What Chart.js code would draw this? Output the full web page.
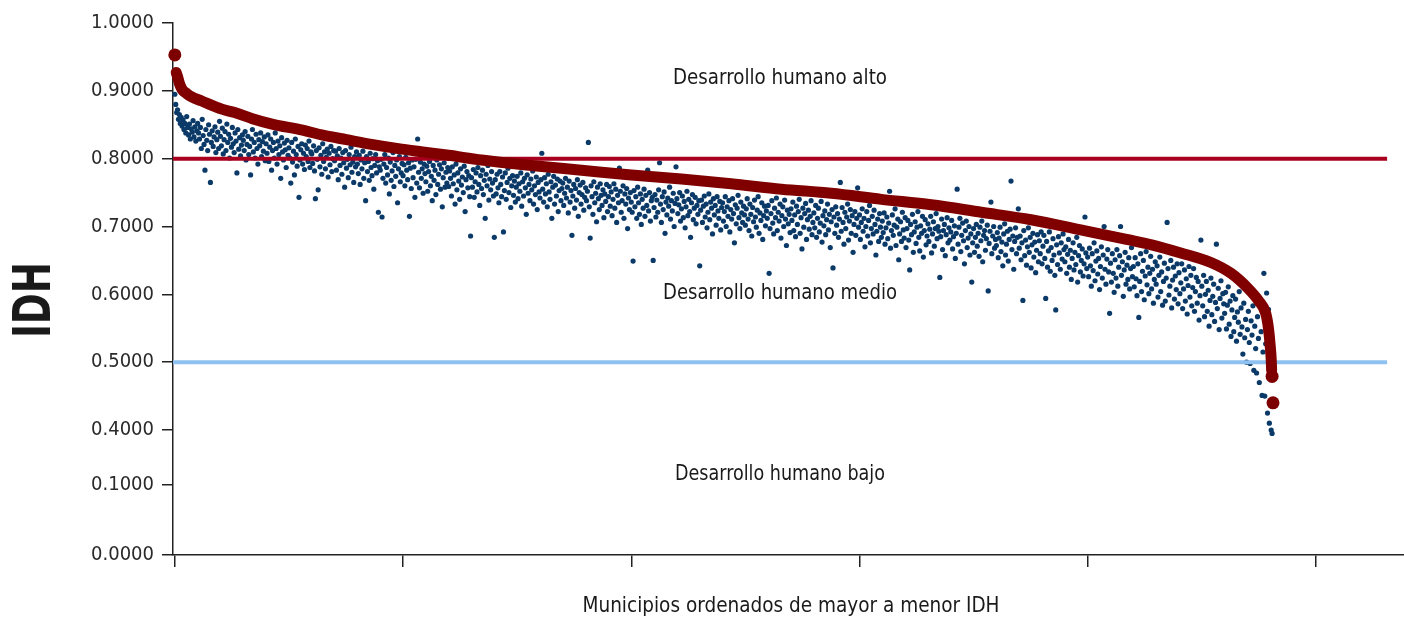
<!DOCTYPE html>
<html>
<head>
<meta charset="utf-8">
<script src="https://cdn.jsdelivr.net/npm/chart.js@4.4.1/dist/chart.umd.min.js"></script>
<style>
  html, body { margin: 0; padding: 0; background: #ffffff; overflow: hidden; }
  #wrap { width: 1404px; height: 617px; }
  canvas { display: block; }
</style>
</head>
<body>
<div id="wrap"><canvas id="c" width="1404" height="617"></canvas></div>
<script>
// ---------------- DATA ----------------
const xTickVals = [0, 500, 1000, 1500, 2000, 2500];
const yTickVals = [0, 0.1, 0.4, 0.5, 0.6, 0.7, 0.8, 0.9, 1.0];
const yTickLabels = ['0.0000', '0.1000', '0.4000', '0.5000', '0.6000', '0.7000', '0.8000', '0.9000', '1.0000'];

// broken y axis: real value -> axis position
const breakIn  = [0, 0.1, 0.4, 1.0];
const breakOut = [0, 70, 125, 532];

const thresholdHigh = 0.8;
const thresholdLow = 0.5;

const zoneLabels = ['Desarrollo humano alto', 'Desarrollo humano medio', 'Desarrollo humano bajo'];
const xTitle = 'Municipios ordenados de mayor a menor IDH';
const yTitle = 'IDH';

// red curve: municipalities sorted by IDH (rank, value)
const redRank = [3, 6, 10, 16, 26, 37, 59, 103, 131, 170, 213, 280, 322, 376, 431, 497, 543, 600, 672, 781, 891, 1000, 1110, 1219, 1329, 1438, 1548, 1657, 1767, 1876, 1985, 2085, 2140, 2204, 2270, 2314, 2351, 2375, 2390, 2396, 2400, 2402, 2403];
const redIdh  = [0.927, 0.921, 0.911, 0.902, 0.896, 0.891, 0.885, 0.873, 0.868, 0.859, 0.851, 0.842, 0.835, 0.828, 0.821, 0.814, 0.810, 0.805, 0.798, 0.790, 0.783, 0.776, 0.770, 0.763, 0.755, 0.749, 0.740, 0.732, 0.721, 0.710, 0.695, 0.681, 0.673, 0.661, 0.647, 0.631, 0.609, 0.590, 0.572, 0.550, 0.523, 0.505, 0.488];

// isolated big red dots
const bigRank = [0, 2404, 2406];
const bigIdh  = [0.953, 0.479, 0.440];

// blue dots: second IDH measure, one value every 2 ranks
const blueStep = 2;
const blueIdh = [
0.895,0.880,0.868,0.872,0.858,0.865,0.852,0.861,0.848,0.857,0.843,0.852,0.838,0.862,0.846,0.835,0.851,0.829,0.844,0.839,0.856,0.832,0.847,0.826,0.841,
0.852,0.838,0.829,0.846,0.815,0.858,0.834,0.821,0.783,0.843,0.827,0.812,0.850,0.836,0.765,0.824,0.841,0.818,0.832,0.847,0.809,0.828,0.839,0.815,0.855,
0.833,0.819,0.845,0.807,0.828,0.840,0.812,0.851,0.824,0.836,0.801,0.830,0.817,0.846,0.822,0.809,0.838,0.826,0.779,0.843,0.814,0.831,0.804,0.820,0.835,
0.827,0.812,0.840,0.798,0.821,0.833,0.806,0.818,0.776,0.829,0.843,0.810,0.824,0.801,0.836,0.815,0.792,0.828,0.819,0.838,0.803,0.825,0.811,0.832,0.797,
0.822,0.808,0.835,0.796,0.817,0.829,0.783,0.812,0.824,0.801,0.838,0.815,0.792,0.826,0.806,0.819,0.771,0.831,0.810,0.798,0.823,0.813,0.787,0.827,0.805,
0.816,0.801,0.764,0.824,0.795,0.811,0.776,0.829,0.806,0.789,0.818,0.743,0.798,0.813,0.822,0.792,0.808,0.784,0.820,0.803,0.815,0.796,0.826,0.787,0.810,
0.807,0.793,0.819,0.782,0.741,0.812,0.799,0.754,0.816,0.788,0.805,0.777,0.822,0.796,0.810,0.785,0.802,0.814,0.773,0.808,0.791,0.818,0.781,0.800,0.812,
0.797,0.811,0.783,0.804,0.769,0.815,0.790,0.801,0.777,0.809,0.794,0.758,0.812,0.786,0.799,0.772,0.806,0.791,0.817,0.780,0.795,0.765,0.803,0.788,0.810,
0.792,0.778,0.805,0.762,0.798,0.785,0.811,0.771,0.794,0.738,0.803,0.781,0.796,0.768,0.808,0.787,0.775,0.800,0.755,0.790,0.806,0.779,0.797,0.721,0.788,
0.783,0.799,0.714,0.771,0.792,0.806,0.764,0.787,0.776,0.801,0.748,0.795,0.768,0.782,0.809,0.759,0.790,0.774,0.798,0.735,0.785,0.803,0.766,0.779,0.793,
0.775,0.791,0.760,0.802,0.783,0.769,0.794,0.715,0.786,0.756,0.798,0.772,0.788,0.743,0.799,0.764,0.829,0.780,0.757,0.795,0.771,0.785,0.749,0.792,0.778,
0.766,0.789,0.752,0.781,0.796,0.760,0.774,0.738,0.790,0.768,0.783,0.747,0.798,0.762,0.777,0.791,0.755,0.785,0.729,0.772,0.794,0.758,0.780,0.764,0.787,
0.759,0.782,0.771,0.745,0.788,0.763,0.776,0.733,0.792,0.754,0.779,0.767,0.740,0.785,0.761,0.773,0.750,0.789,0.722,0.769,0.781,0.757,0.775,0.744,0.686,
0.772,0.758,0.784,0.743,0.766,0.779,0.751,0.787,0.762,0.731,0.775,0.756,0.783,0.747,0.768,0.712,0.777,0.760,0.790,0.739,0.770,0.754,0.781,0.764,0.745,
0.684,0.769,0.748,0.777,0.757,0.735,0.781,0.762,0.744,0.773,0.692,0.753,0.779,0.740,0.765,0.786,0.750,0.771,0.728,0.760,0.775,0.746,0.767,0.736,0.758,
0.774,0.741,0.763,0.752,0.779,0.730,0.766,0.745,0.771,0.757,0.718,0.776,0.749,0.762,0.738,0.770,0.754,0.782,0.733,0.760,0.747,0.773,0.725,0.765,0.751,
0.742,0.769,0.808,0.755,0.736,0.772,0.748,0.763,0.729,0.777,0.751,0.740,0.766,0.712,0.758,0.774,0.733,0.761,0.745,0.770,0.722,0.753,0.767,0.738,0.756,
0.764,0.731,0.749,0.771,0.742,0.758,0.720,0.767,0.736,0.753,0.687,0.745,0.762,0.727,0.756,0.739,0.769,0.715,0.750,0.761,0.733,0.747,0.765,0.724,0.743,
0.757,0.738,0.752,0.824,0.729,0.683,0.760,0.744,0.718,0.766,0.735,0.749,0.707,0.758,0.741,0.725,0.763,0.746,0.731,0.754,0.713,0.748,0.737,0.762,0.722,
0.744,0.759,0.730,0.751,0.716,0.740,0.763,0.727,0.755,0.706,0.746,0.735,0.786,0.752,0.721,0.738,0.760,0.712,0.748,0.733,0.756,0.697,0.742,0.725,0.750,
0.736,0.721,0.649,0.753,0.729,0.744,0.712,0.758,0.735,0.718,0.748,0.703,0.740,0.727,0.755,0.715,0.746,0.731,0.783,0.723,0.750,0.708,0.738,0.743,0.650,
0.728,0.747,0.714,0.739,0.721,0.754,0.794,0.733,0.706,0.744,0.725,0.751,0.690,0.736,0.717,0.742,0.730,0.758,0.711,0.738,0.723,0.749,0.700,0.734,0.788,
0.741,0.719,0.732,0.750,0.708,0.726,0.745,0.713,0.737,0.698,0.729,0.752,0.716,0.740,0.722,0.684,0.735,0.747,0.710,0.727,0.743,0.704,0.731,0.718,0.738,
0.642,0.724,0.739,0.706,0.730,0.745,0.714,0.733,0.698,0.721,0.748,0.710,0.736,0.727,0.689,0.741,0.717,0.731,0.702,0.744,0.723,0.712,0.737,0.695,0.728,
0.735,0.708,0.722,0.744,0.700,0.729,0.715,0.738,0.692,0.725,0.711,0.741,0.719,0.676,0.732,0.704,0.727,0.746,0.713,0.697,0.736,0.720,0.706,0.730,0.717,
0.702,0.726,0.741,0.711,0.694,0.733,0.718,0.686,0.728,0.707,0.739,0.714,0.699,0.724,0.744,0.690,0.720,0.709,0.735,0.681,0.716,0.730,0.701,0.723,0.712,
0.731,0.631,0.697,0.719,0.738,0.705,0.689,0.727,0.713,0.742,0.694,0.721,0.708,0.733,0.683,0.716,0.729,0.700,0.739,0.711,0.672,0.724,0.704,0.718,0.691,
0.726,0.709,0.736,0.694,0.717,0.685,0.730,0.703,0.722,0.740,0.690,0.713,0.667,0.727,0.699,0.719,0.734,0.681,0.710,0.724,0.696,0.715,0.738,0.688,0.706,
0.720,0.698,0.731,0.684,0.712,0.727,0.692,0.705,0.737,0.677,0.716,0.701,0.723,0.688,0.710,0.733,0.695,0.718,0.669,0.707,0.725,0.639,0.714,0.690,0.729,
0.702,0.719,0.684,0.711,0.765,0.693,0.728,0.706,0.674,0.721,0.697,0.714,0.733,0.680,0.708,0.725,0.690,0.716,0.662,0.703,0.722,0.687,0.712,0.757,0.699,
0.717,0.681,0.706,0.726,0.693,0.712,0.670,0.700,0.722,0.686,0.709,0.731,0.676,0.697,0.715,0.689,0.724,0.703,0.658,0.693,0.711,0.678,0.719,0.699,0.684,
0.708,0.691,0.720,0.674,0.698,0.714,0.682,0.705,0.752,0.668,0.694,0.717,0.687,0.702,0.726,0.672,0.699,0.711,0.651,0.689,0.707,0.678,0.721,0.695,0.683,
0.713,0.669,0.697,0.709,0.680,0.636,0.703,0.688,0.718,0.662,0.692,0.707,0.675,0.699,0.722,0.684,0.664,0.701,0.690,0.715,0.655,0.694,0.710,0.673,0.686,
0.704,0.678,0.696,0.715,0.661,0.689,0.707,0.671,0.697,0.719,0.682,0.700,0.693,0.625,0.685,0.711,0.666,0.694,0.703,0.657,0.688,0.713,0.676,0.698,0.680,
0.692,0.709,0.667,0.685,0.701,0.653,0.690,0.755,0.674,0.699,0.712,0.663,0.687,0.705,0.679,0.645,0.694,0.708,0.669,0.683,0.700,0.658,0.689,0.618,0.676,
0.697,0.662,0.684,0.703,0.671,0.690,0.656,0.699,0.679,0.708,0.648,0.687,0.694,0.665,0.682,0.702,0.605,0.675,0.693,0.736,0.660,0.686,0.700,0.668,0.681,
0.672,0.691,0.654,0.683,0.699,0.663,0.677,0.642,0.689,0.704,0.658,0.674,0.693,0.649,0.681,0.696,0.767,0.666,0.686,0.637,0.678,0.698,0.660,0.684,0.726,
0.668,0.686,0.651,0.676,0.591,0.694,0.657,0.680,0.643,0.670,0.698,0.662,0.684,0.639,0.673,0.690,0.655,0.677,0.632,0.665,0.688,0.648,0.679,0.660,0.692,
0.645,0.671,0.687,0.653,0.594,0.678,0.640,0.664,0.692,0.634,0.669,0.650,0.682,0.658,0.628,0.577,0.673,0.644,0.685,0.661,0.637,0.676,0.652,0.689,0.666,
0.648,0.670,0.631,0.659,0.681,0.640,0.665,0.622,0.653,0.676,0.636,0.662,0.644,0.684,0.618,0.657,0.672,0.633,0.650,0.667,0.627,0.645,0.714,0.661,0.638,
0.655,0.626,0.668,0.642,0.612,0.660,0.635,0.676,0.620,0.649,0.664,0.630,0.653,0.607,0.641,0.670,0.624,0.658,0.700,0.637,0.615,0.652,0.666,0.633,0.572,
0.646,0.618,0.660,0.631,0.603,0.651,0.624,0.666,0.612,0.640,0.657,0.700,0.628,0.648,0.597,0.636,0.662,0.615,0.643,0.622,0.654,0.608,0.638,0.669,0.626,
0.641,0.611,0.654,0.623,0.598,0.645,0.566,0.619,0.660,0.604,0.634,0.650,0.592,0.627,0.663,0.614,0.640,0.601,0.631,0.656,0.608,0.637,0.587,0.622,0.648,
0.615,0.642,0.596,0.628,0.655,0.604,0.633,0.584,0.619,0.646,0.590,0.624,0.706,0.638,0.599,0.612,0.650,0.580,0.621,0.640,0.593,0.627,0.607,0.645,0.586,
0.632,0.601,0.617,0.645,0.579,0.608,0.636,0.590,0.623,0.571,0.613,0.641,0.596,0.628,0.583,0.610,0.638,0.575,0.604,0.625,0.587,0.619,0.562,0.598,0.680,
0.612,0.583,0.628,0.567,0.600,0.619,0.575,0.606,0.553,0.591,0.624,0.570,0.597,0.615,0.560,0.588,0.674,0.579,0.609,0.548,0.594,0.620,0.565,0.601,0.586,
0.572,0.603,0.549,0.584,0.611,0.556,0.590,0.538,0.577,0.598,0.545,0.566,0.593,0.531,0.574,0.559,0.604,0.541,0.580,0.552,0.512,0.587,0.536,0.563,0.500,
0.548,0.575,0.529,0.498,0.561,0.540,0.583,0.488,0.553,0.520,0.484,0.567,0.535,0.470,0.592,0.545,0.451,0.515,0.631,0.450,0.527,0.602,0.425,0.578,0.410,0.505,0.400,0.395
];

// ---------------- HELPERS ----------------
function brk(v) {
  for (let i = 1; i < breakIn.length; i++) {
    if (v <= breakIn[i] || i === breakIn.length - 1) {
      const a = breakIn[i - 1], b = breakIn[i];
      return breakOut[i - 1] + (v - a) * (breakOut[i] - breakOut[i - 1]) / (b - a);
    }
  }
}
function brkY(v) {
  // values just under 0.4 continue the upper segment
  if (v < 0.4 && v > 0.35) {
    return breakOut[2] + (v - 0.4) * (breakOut[3] - breakOut[2]) / (1.0 - 0.4);
  }
  return brk(v);
}

const bluePts = blueIdh.map((v, i) => ({ x: i * blueStep, y: brkY(v) }));
const redPts = redRank.map((r, i) => ({ x: r, y: brkY(redIdh[i]) }));
const bigPts = bigRank.map((r, i) => ({ x: r, y: brkY(bigIdh[i]) }));
const X_MIN = -4;
const X_MAX = 2693;
const LINE_END = 2656;

const FAM = "'Liberation Sans Narrow', 'DejaVu Sans Condensed', 'Liberation Sans', sans-serif";

const textPlugin = {
  id: 'texts',
  afterDraw(chart) {
    const ctx = chart.ctx;
    function fit(text, cx, base, w, size) {
      ctx.save();
      ctx.font = size + 'px ' + FAM;
      const mw = ctx.measureText(text).width;
      ctx.translate(cx, base);
      ctx.scale(w / mw, 1);
      ctx.textAlign = 'center';
      ctx.textBaseline = 'alphabetic';
      ctx.fillStyle = '#1a1a1a';
      ctx.fillText(text, 0, 0);
      ctx.restore();
    }
    fit(zoneLabels[0], 780, 84, 214, 21);
    fit(zoneLabels[1], 780, 299, 234, 21);
    fit(zoneLabels[2], 780, 480, 210, 21);
    fit(xTitle, 791, 612, 417, 21);
    // y title rotated
    ctx.save();
    ctx.font = 'bold 52px ' + FAM;
    const mw = ctx.measureText(yTitle).width;
    ctx.translate(50, 300);
    ctx.rotate(-Math.PI / 2);
    ctx.scale(76 / mw, 1);
    ctx.textAlign = 'center';
    ctx.textBaseline = 'alphabetic';
    ctx.fillStyle = '#1a1a1a';
    ctx.fillText(yTitle, 0, 0);
    ctx.restore();
  }
};

new Chart(document.getElementById('c'), {
  type: 'scatter',
  data: {
    datasets: [
      { type: 'scatter', data: bigPts, pointRadius: 6.5, backgroundColor: '#7d0000', pointBorderWidth: 0, order: 0, clip: false },
      { type: 'line', data: redPts, borderColor: '#800000', borderWidth: 11, pointRadius: 0, cubicInterpolationMode: 'monotone',
        borderCapStyle: 'round', borderJoinStyle: 'round', fill: false, order: 1, clip: false },
      { type: 'line', data: [{ x: X_MIN, y: brkY(thresholdHigh) }, { x: LINE_END, y: brkY(thresholdHigh) }], borderColor: '#a8001e',
        borderWidth: 4, pointRadius: 0, fill: false, order: 2, clip: false },
      { type: 'line', data: [{ x: X_MIN, y: brkY(thresholdLow) }, { x: LINE_END, y: brkY(thresholdLow) }], borderColor: '#8ec1ef',
        borderWidth: 4, pointRadius: 0, fill: false, order: 2, clip: false },
      { type: 'scatter', data: bluePts, pointRadius: 2.6, backgroundColor: '#0b3a68', pointBorderWidth: 0, order: 3, clip: false }
    ]
  },
  options: {
    responsive: false,
    animation: false,
    devicePixelRatio: 1,
    events: [],
    layout: { autoPadding: false, padding: { top: 23, right: 0, bottom: 0, left: 0 } },
    plugins: { legend: { display: false }, tooltip: { enabled: false }, title: { display: false } },
    scales: {
      x: {
        type: 'linear', min: X_MIN, max: X_MAX,
        afterBuildTicks: (s) => { s.ticks = xTickVals.map(v => ({ value: v })); },
        afterFit: (s) => { s.height = 62; s.paddingRight = 0; s.paddingLeft = 0; },
        ticks: { display: false },
        grid: { drawOnChartArea: false, drawTicks: true, tickLength: 12, color: '#222', lineWidth: 1.5 },
        border: { display: true, color: '#222', width: 1.5 }
      },
      y: {
        type: 'linear', min: 0, max: breakOut[breakOut.length - 1],
        afterBuildTicks: (s) => { s.ticks = yTickVals.map(v => ({ value: brk(v) })); },
        afterFit: (s) => { s.width = 173; },
        ticks: {
          callback: (val, i) => yTickLabels[i],
          padding: 8, color: '#2a2a2a',
          font: { family: FAM, size: 20 }
        },
        grid: { drawOnChartArea: false, drawTicks: true, tickLength: 11, color: '#222', lineWidth: 1.5 },
        border: { display: true, color: '#222', width: 1.5 }
      }
    }
  },
  plugins: [textPlugin]
});
</script>
</body>
</html>
